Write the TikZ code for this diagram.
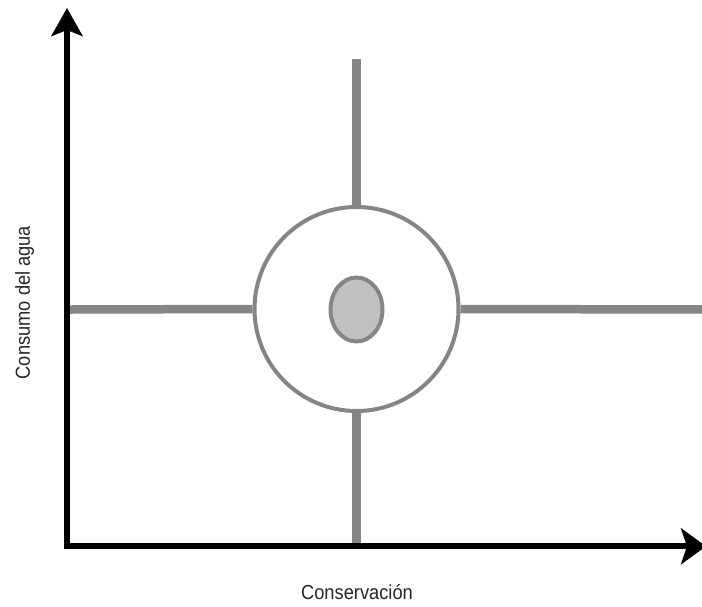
\documentclass[tikz,border=0pt]{standalone}
\usepackage{fontspec}
\setmainfont{Liberation Sans}
\newfontfamily\condfont[FakeStretch=0.9]{Liberation Sans}
\usetikzlibrary{arrows.meta,shapes.geometric}
\definecolor{linegray}{HTML}{858585}
\definecolor{fillgray}{HTML}{C0C0C0}
\begin{document}
\begin{tikzpicture}[x=1pt,y=-1pt,
  axisline/.style={line width=6pt,black},
  grayline/.style={line width=8.5pt,linegray},
  lbl/.style={font=\condfont\fontsize{20.3}{22}\selectfont,inner sep=0pt,text=black!85}]
\useasboundingbox (0,0) rectangle (702,606);
\clip (0,0) rectangle (702,606);
% coordinates
\coordinate (O) at (67,546.3);
\coordinate (ytop) at (67,8);
\coordinate (xend) at (706,546.3);
\coordinate (C) at (356.5,309);
\coordinate (vtop) at (356.5,59);
\coordinate (vbot) at (356.5,546);
\coordinate (hleft) at (70,309.5);
\coordinate (hright) at (705,309.5);
% circles
\node[circle,draw=linegray,line width=4pt,minimum size=204pt,inner sep=0pt] (ring) at (C) {};
\node[ellipse,draw=linegray,line width=4pt,fill=fillgray,minimum width=52pt,minimum height=64pt,inner sep=0pt] (core) at (356.5,309.5) {};
% gray lines
\draw[grayline] (vtop) -- (ring.north);
\draw[grayline] (ring.south) -- (vbot);
\draw[grayline] (hleft) -- (ring.west);
\draw[grayline] (ring.east) -- (hright);
% axes
\draw[axisline,-{Stealth[length=28pt,width=31pt,inset=6pt]}] (O) -- (ytop);
\draw[axisline,-{Stealth[length=25pt,width=36pt,inset=6pt]}] ([xshift=-3pt]O) -- (xend);
% labels
\node[lbl,rotate=90,anchor=base] (ylab) at (30,302.5) {Consumo del agua};
\node[lbl,anchor=base] (xlab) at (357,599.5) {Conservación};
\end{tikzpicture}
\end{document}
